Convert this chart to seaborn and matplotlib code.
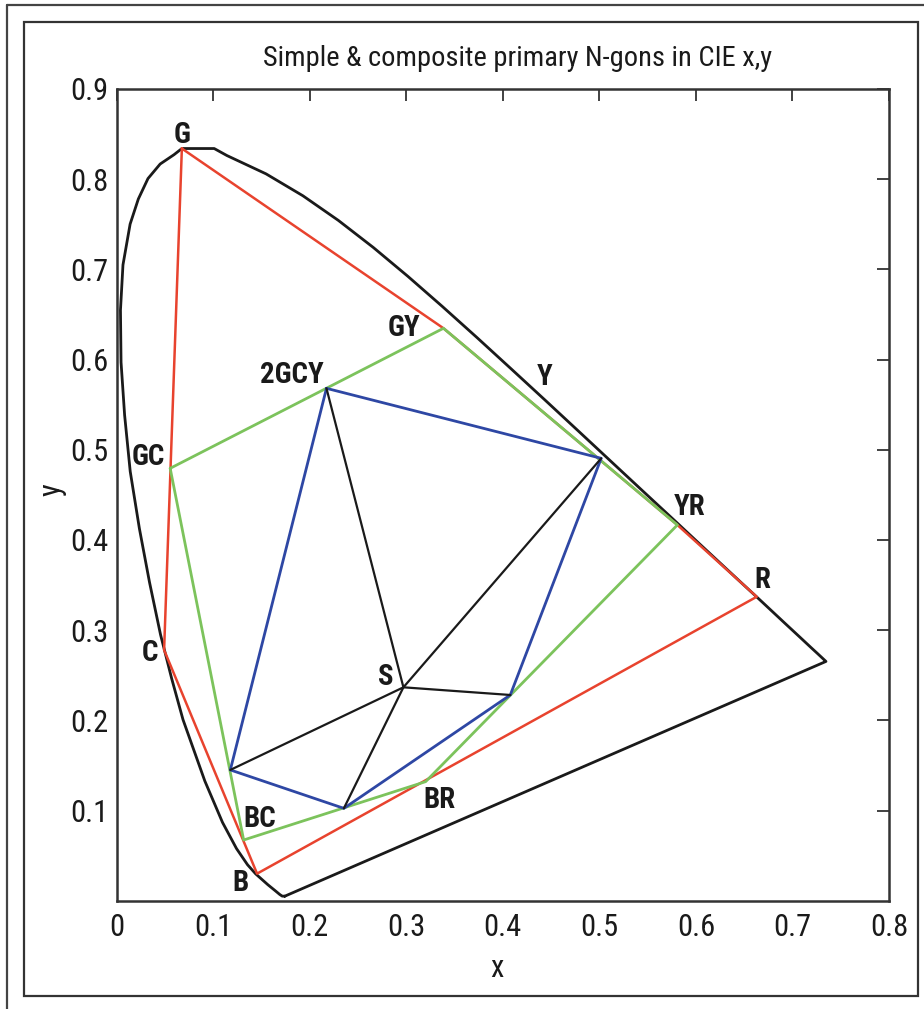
import matplotlib
matplotlib.use("Agg")
import matplotlib.pyplot as plt
from matplotlib import font_manager
from matplotlib.lines import Line2D
from matplotlib.patches import Rectangle
import seaborn as sns
import pandas as pd

# ---------------- data ----------------
locus_x = [0.1741, 0.1714, 0.1689, 0.1644, 0.1566, 0.1440, 0.1355, 0.1241, 0.1096,
           0.0913, 0.0687, 0.0570, 0.0454, 0.0340, 0.0235, 0.0140, 0.0082, 0.0045,
           0.0039, 0.0065, 0.0139, 0.0224, 0.0324, 0.0450, 0.0594, 0.0675,
           0.1010, 0.1142, 0.1547, 0.1929, 0.2296, 0.2658, 0.3016, 0.3373, 0.3731,
           0.4087, 0.4441, 0.4788, 0.5125, 0.5448, 0.5752, 0.6029, 0.6270, 0.6482,
           0.6658, 0.6915, 0.7079, 0.7190, 0.7260, 0.7334, 0.7347, 0.1741]
locus_y = [0.0050, 0.0051, 0.0069, 0.0109, 0.0177, 0.0297, 0.0399, 0.0578, 0.0868,
           0.1327, 0.2007, 0.2461, 0.2950, 0.3530, 0.4127, 0.4760, 0.5384, 0.5970,
           0.6548, 0.7050, 0.7502, 0.7780, 0.8007, 0.8168, 0.8272, 0.8340,
           0.8340, 0.8262, 0.8059, 0.7816, 0.7543, 0.7243, 0.6923, 0.6589, 0.6245,
           0.5896, 0.5547, 0.5202, 0.4866, 0.4544, 0.4242, 0.3965, 0.3725, 0.3514,
           0.3340, 0.3083, 0.2920, 0.2809, 0.2740, 0.2666, 0.2653, 0.0050]

# simple primaries polygon (red): G, GY, YR, R, B, C
red_x = [0.0675, 0.3385, 0.5808, 0.6630, 0.1454, 0.0491, 0.0675]
red_y = [0.8340, 0.6347, 0.4166, 0.3370, 0.0300, 0.2780, 0.8340]

# composite primaries polygon (green): GC, GY, YR, BR, BC
green_x = [0.0554, 0.3385, 0.5808, 0.3200, 0.1315, 0.0554]
green_y = [0.4794, 0.6347, 0.4166, 0.1320, 0.0673, 0.4794]

# inner polygon (blue): 2GCY, P2, P3, P4, P5
blue_x = [0.2173, 0.5019, 0.4077, 0.2353, 0.1177, 0.2173]
blue_y = [0.5681, 0.4905, 0.2281, 0.1024, 0.1450, 0.5681]

# white point S
s_x, s_y = 0.2970, 0.2366

labels = ["G", "GY", "Y", "2GCY", "GC", "YR", "R", "C", "S", "BR", "BC", "B"]
label_x = [0.0681, 0.2976, 0.4430, 0.1817, 0.0328, 0.5936, 0.6690, 0.0346,
           0.2786, 0.3340, 0.1481, 0.1280]
label_y = [0.8490, 0.6348, 0.5810, 0.5828, 0.4923, 0.4368, 0.3557, 0.2743,
           0.2477, 0.1116, 0.0902, 0.0193]

x_ticks = [0, 0.1, 0.2, 0.3, 0.4, 0.5, 0.6, 0.7, 0.8]
x_ticklabels = ["0", "0.1", "0.2", "0.3", "0.4", "0.5", "0.6", "0.7", "0.8"]
y_ticks = [0.1, 0.2, 0.3, 0.4, 0.5, 0.6, 0.7, 0.8, 0.9]
y_ticklabels = ["0.1", "0.2", "0.3", "0.4", "0.5", "0.6", "0.7", "0.8", "0.9"]

title = "Simple & composite primary N-gons in CIE x,y"

# ---------------- style ----------------
sns.set_style("white")
ents = font_manager.fontManager.ttflist
names = {f.name for f in ents}
family = "Liberation Sans"
stretch = "normal"
for cand in ["Liberation Sans Narrow", "Roboto Condensed", "Open Sans Condensed",
             "Noto Sans Condensed", "DejaVu Sans Condensed"]:
    if cand in names:
        family = cand
        break
else:
    for f in ents:
        if f.name in ("Noto Sans", "Open Sans", "Roboto", "DejaVu Sans") and \
                str(f.stretch) in ("condensed", "semi-condensed", "extra-condensed"):
            family = f.name
            stretch = "condensed"
            break
plt.rcParams["font.family"] = [family, "DejaVu Sans"]
plt.rcParams["font.stretch"] = stretch

fig = plt.figure(figsize=(9.24, 10.09), dpi=100)
ax = fig.add_axes([116.7 / 924, 1 - 900.7 / 1009, (889 - 116.7) / 924, (900.7 - 89) / 1009])

def poly(xs, ys, color, lw):
    df = pd.DataFrame({"x": xs, "y": ys})
    sns.lineplot(data=df, x="x", y="y", sort=False, estimator=None, color=color,
                 linewidth=lw, ax=ax)

poly(locus_x, locus_y, "#1a1a1a", 2.0)
poly(red_x, red_y, "#e8432e", 1.8)
poly(green_x, green_y, "#7cc35c", 2.0)
poly(blue_x, blue_y, "#2e47a4", 2.0)
for bx, by in zip(blue_x[:-1], blue_y[:-1]):
    poly([s_x, bx], [s_y, by], "#1a1a1a", 1.6)

for t, lx, ly in zip(labels, label_x, label_y):
    ax.text(lx, ly, t, ha="center", va="center", fontsize=20.8, fontweight="bold",
            color="#1a1a1a")

ax.set_xlim(0, 0.8)
ax.set_ylim(0, 0.9)
ax.set_xticks(x_ticks)
ax.set_xticklabels(x_ticklabels)
ax.set_yticks(y_ticks)
ax.set_yticklabels(y_ticklabels)
ax.tick_params(direction="in", length=8.5, width=1.3, colors="#333333",
               labelsize=22, labelcolor="#1a1a1a", top=True, right=True)
ax.tick_params(axis="x", pad=9)
ax.tick_params(axis="y", pad=6)
for sp in ax.spines.values():
    sp.set_color("#333333")
    sp.set_linewidth(1.8)

ax.set_xlabel("x", fontsize=22, color="#1a1a1a")
ax.set_ylabel("y", fontsize=22, color="#1a1a1a")
ax.xaxis.label.set_va("center")
ax.yaxis.label.set_va("center")
ax.xaxis.set_label_coords(0.4924, -0.083)
ax.yaxis.set_label_coords(-0.0838, 0.506)

fig.text(518 / 924, 1 - 66 / 1009, title, ha="center", va="baseline", fontsize=20.5,
         color="#1a1a1a")

# outer frames
fig.add_artist(Rectangle((24 / 924, 1 - 996 / 1009), (918 - 24) / 924, (996 - 22) / 1009,
                         transform=fig.transFigure, fill=False, edgecolor="#333333",
                         linewidth=1.6))
fig.add_artist(Line2D([7 / 924, 1], [1 - 5 / 1009, 1 - 5 / 1009], transform=fig.transFigure,
                      color="#444444", linewidth=1.6))
fig.add_artist(Line2D([7 / 924, 7 / 924], [0, 1 - 5 / 1009], transform=fig.transFigure,
                      color="#444444", linewidth=1.6))

fig.savefig("out.png", dpi=100)
